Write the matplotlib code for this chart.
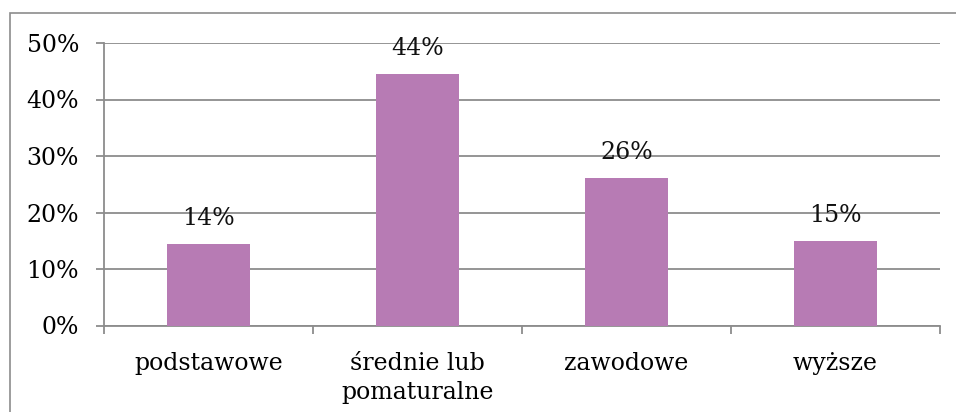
import matplotlib
matplotlib.use("Agg")
import matplotlib.pyplot as plt
from matplotlib.patches import Rectangle
from matplotlib.ticker import FuncFormatter, FixedLocator

kategorie = ["podstawowe", "średnie lub\npomaturalne", "zawodowe", "wyższe"]
wartosci = [14.4, 44.5, 26.1, 15.0]
etykiety = ["14%", "44%", "26%", "15%"]

plt.rcParams['font.family'] = ['DejaVu Serif']
kolor_slupka = "#B77BB4"
kolor_siatki = "#8C8C8C"

fig = plt.figure(figsize=(9.56, 4.12), dpi=100)
ax = fig.add_axes([104 / 956, (412 - 325.5) / 412, (940 - 104) / 956, (325.5 - 43) / 412])

# ramka wykresu (tylko lewa i gorna krawedz widoczna)
fig.patches.append(Rectangle((10 / 956, -0.1), 1.2, (412 - 13) / 412 + 0.1,
                             transform=fig.transFigure, fill=False,
                             edgecolor="#8C8C8C", linewidth=1.2))

x = list(range(len(kategorie)))
ax.bar(x, wartosci, width=0.40, color=kolor_slupka, zorder=3)

for xi, v, e in zip(x, wartosci, etykiety):
    ax.annotate(e, (xi, v), xytext=(0, 10), textcoords="offset points",
                ha="center", va="bottom", fontsize=17, color="#111111")

ax.set_xlim(-0.5, len(kategorie) - 0.5)
ax.set_ylim(0, 50)
ax.set_yticks([0, 10, 20, 30, 40, 50])
ax.yaxis.set_major_formatter(FuncFormatter(lambda v, p: f"{int(v)}%"))
ax.yaxis.grid(True, color=kolor_siatki, linewidth=1.3, zorder=0)
ax.set_axisbelow(True)

ax.set_xticks(x)
ax.set_xticklabels(kategorie, fontsize=17, linespacing=1.35)
ax.tick_params(axis="x", length=0, pad=19)
ax.xaxis.set_minor_locator(FixedLocator([-0.5, 0.5, 1.5, 2.5, 3.5]))
ax.tick_params(axis="x", which="minor", length=6, width=1.3, color=kolor_siatki)
ax.tick_params(axis="y", length=6, width=1.3, color=kolor_siatki, labelsize=17, pad=12)

for s in ["top", "right"]:
    ax.spines[s].set_visible(False)
for s in ["left", "bottom"]:
    ax.spines[s].set_color(kolor_siatki)
    ax.spines[s].set_linewidth(1.3)

fig.savefig("out.png", dpi=100)
